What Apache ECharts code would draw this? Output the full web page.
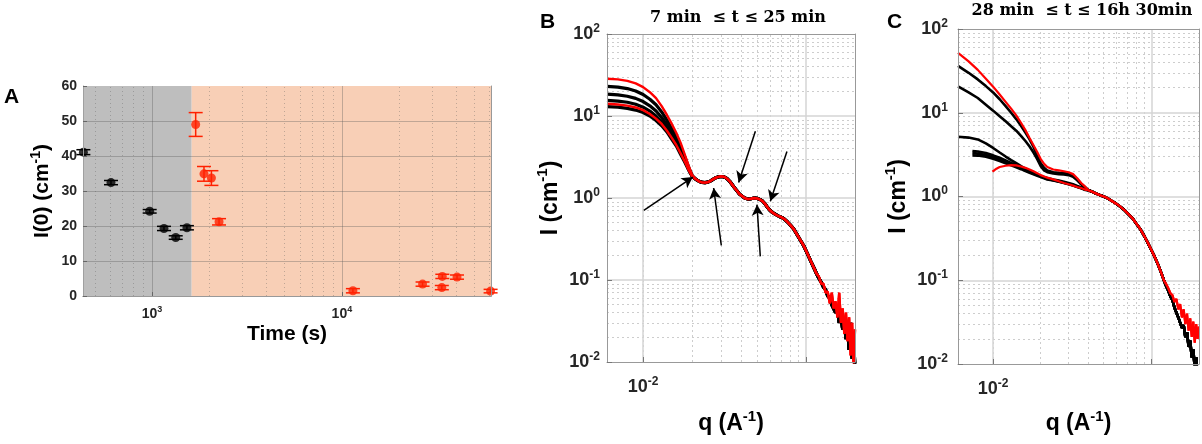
<!DOCTYPE html>
<html><head><meta charset="utf-8">
<script src="https://cdn.jsdelivr.net/npm/echarts@6/dist/echarts.min.js"></script>
<style>html,body{margin:0;padding:0;background:#fff}#c{width:1202px;height:444px}</style>
</head><body><div id="c"></div>
<script>
// ---------- Panel A data ----------
const timeBlack = [435, 608, 972, 1156, 1333, 1527];
const iBlack    = [41.1, 32.4, 24.2, 19.3, 16.7, 19.5];
const errBlack  = [0.7, 0.6, 0.5, 0.6, 0.5, 0.6];
const timeRed   = [1698, 1878, 2055, 2254, 11430, 26600, 33600, 33800, 40400, 60700];
const iRed      = [49.0, 34.9, 33.7, 21.2, 1.5, 3.4, 2.4, 5.6, 5.4, 1.4];
const errRed    = [3.4, 2.1, 2.1, 0.9, 0.6, 0.6, 0.6, 0.6, 0.6, 0.5];
const phaseSplit = 1618;
const aTicksX = [1000, 10000];

// ---------- Panel B data ----------
const qB_low = [0.006,0.007,0.008,0.009,0.010,0.011,0.012,0.013,0.014,0.015,0.016,0.017,0.018,0.019,0.020];
const B_red1 = [28.5,28.0,26.8,25.0,22.5,19.5,16.5,13.2,10.3,8.0,6.2,4.7,3.4,2.5,1.9];
const B_blk1 = [23.0,22.5,21.6,20.2,18.3,16.0,13.7,11.2,8.9,7.0,5.5,4.2,3.2,2.4,1.88];
const B_blk2 = [18.5,18.1,17.4,16.4,15.0,13.3,11.5,9.6,7.8,6.2,4.9,3.8,3.0,2.3,1.86];
const B_blk3 = [15.5,15.2,14.7,13.9,12.8,11.5,10.0,8.5,7.0,5.7,4.6,3.6,2.85,2.25,1.85];
const B_red2 = [14.1,13.8,13.4,12.7,11.8,10.6,9.3,8.0,6.6,5.4,4.4,3.5,2.8,2.2,1.84];
const B_blk4 = [13.0,12.8,12.4,11.8,11.0,10.0,8.8,7.6,6.4,5.2,4.3,3.4,2.75,2.2,1.83];
const qB_tail = [0.021,0.022,0.023,0.024,0.025,0.026,0.027,0.028,0.029,0.030,0.031,0.032,0.033,0.034,0.035,0.036,0.037,0.038,0.039,0.040,0.042,0.044,0.046,0.048,0.050,0.052,0.054,0.056,0.058,0.060,0.062,0.065,0.068,0.071,0.074,0.077,0.080,0.084,0.088,0.092,0.097,0.102,0.107,0.112,0.116];
const B_tail = [1.7,1.6,1.55,1.54,1.56,1.62,1.7,1.77,1.81,1.83,1.82,1.78,1.7,1.6,1.48,1.37,1.28,1.2,1.12,1.06,1.0,0.97,0.98,1.0,0.99,0.96,0.92,0.85,0.77,0.71,0.67,0.63,0.6,0.58,0.55,0.51,0.47,0.42,0.36,0.31,0.26,0.21,0.17,0.14,0.12];
const qB_end = [0.120,0.124,0.128,0.132,0.136,0.140,0.144,0.148,0.152,0.156,0.160,0.164,0.168,0.172,0.176,0.180,0.184,0.188,0.192,0.196,0.200];
const B_endBlack = [0.105,0.094,0.082,0.076,0.064,0.06,0.05,0.052,0.04,0.043,0.03,0.036,0.025,0.032,0.019,0.028,0.014,0.03,0.011,0.02,0.008];
const B_endRed   = [0.11,0.09,0.09,0.07,0.072,0.052,0.07,0.045,0.055,0.035,0.07,0.03,0.045,0.022,0.04,0.018,0.035,0.012,0.03,0.009,0.025];
// arrows (B)
const arrowFromQ = [0.0101, 0.0302, 0.0489, 0.0524, 0.0764];
const arrowFromI = [0.706, 0.264, 6.5, 0.194, 3.7];
const arrowToQ   = [0.0202, 0.0271, 0.0386, 0.050, 0.0604];
const arrowToI   = [1.80, 1.325, 1.55, 0.83, 0.91];

// ---------- Panel C data ----------
const qC_main = [0.006,0.007,0.008,0.009,0.010,0.011,0.012,0.013,0.014,0.015,0.016,0.017,0.018,0.019,0.020,0.021,0.022,0.024,0.026,0.028,0.030,0.032,0.034,0.036,0.038];
const C_red1 = [52,41,32.5,25.5,20.5,16.5,13.5,11.2,9.3,7.6,6.2,5.0,4.1,3.4,2.8,2.45,2.25,2.1,2.05,2.0,1.95,1.85,1.65,1.45,1.32];
const C_blk1 = [36.3,30,25,20.8,17.5,14.5,12.0,10.0,8.4,7.0,5.8,4.8,3.9,3.1,2.5,2.2,2.05,1.95,1.92,1.9,1.87,1.78,1.6,1.42,1.3];
const C_blk2 = [20.7,17.5,15.0,12.5,10.6,9.1,7.9,6.9,6.1,5.3,4.6,3.95,3.35,2.8,2.3,2.05,1.95,1.88,1.85,1.83,1.8,1.72,1.56,1.4,1.29];
const C_blk3 = [5.16,5.05,4.8,4.3,3.8,3.35,3.0,2.72,2.5,2.3,2.15,2.02,1.92,1.83,1.76,1.71,1.66,1.6,1.55,1.5,1.45,1.4,1.34,1.28,1.22];
const qC_grp = [0.0074,0.008,0.009,0.010,0.011,0.012,0.013,0.014,0.015,0.016,0.017,0.018,0.019,0.020,0.021,0.022,0.024,0.026,0.028,0.030,0.032,0.034,0.036,0.038];
const C_grp1 = [3.5,3.45,3.3,3.1,2.9,2.7,2.52,2.38,2.25,2.12,2.0,1.9,1.82,1.75,1.69,1.64,1.57,1.52,1.47,1.42,1.37,1.32,1.27,1.22];
const C_grp2 = [3.3,3.25,3.12,2.95,2.78,2.6,2.45,2.3,2.18,2.06,1.96,1.87,1.8,1.73,1.67,1.62,1.56,1.51,1.46,1.41,1.36,1.31,1.26,1.21];
const C_grp3 = [3.1,3.08,2.98,2.82,2.66,2.5,2.36,2.23,2.12,2.01,1.92,1.84,1.77,1.71,1.65,1.6,1.55,1.5,1.45,1.4,1.35,1.3,1.25,1.2];
const qC_red2 = [0.0099,0.0105,0.011,0.012,0.013,0.014,0.015,0.016,0.017,0.018,0.019,0.020,0.021,0.022,0.024,0.026,0.028,0.030,0.032,0.034,0.036,0.038];
const C_red2  = [1.98,2.15,2.25,2.33,2.37,2.35,2.28,2.2,2.1,2.0,1.9,1.8,1.73,1.68,1.6,1.52,1.45,1.4,1.35,1.3,1.26,1.21];
const qC_tail = [0.040,0.042,0.044,0.046,0.048,0.050,0.053,0.056,0.060,0.064,0.068,0.072,0.076,0.080,0.085,0.090,0.095,0.100,0.105,0.110,0.115,0.120];
const C_tail  = [1.19,1.15,1.1,1.06,1.03,1.0,0.95,0.89,0.82,0.75,0.68,0.61,0.55,0.48,0.41,0.34,0.28,0.23,0.19,0.155,0.125,0.1];
const qC_end = [0.124,0.128,0.132,0.136,0.140,0.144,0.148,0.152,0.156,0.160,0.164,0.168,0.172,0.176,0.180,0.184,0.188,0.192,0.196,0.200];
const C_endBlack = [0.085,0.075,0.064,0.058,0.047,0.045,0.036,0.037,0.027,0.029,0.021,0.024,0.016,0.019,0.012,0.015,0.009,0.012,0.007,0.009];
const C_endRed   = [0.09,0.08,0.07,0.066,0.055,0.06,0.045,0.052,0.036,0.045,0.03,0.04,0.025,0.035,0.021,0.032,0.018,0.03,0.02,0.028];

// ---------- axis / grid tick values ----------
const qMin = 0.006, qMax = 0.2, iMin = 0.01, iMax = 100;
const logTicksY = [0.01, 0.1, 1, 10, 100];
const qLabelTicks = [0.01];
const qMajor = [0.01, 0.1];
const mantissas = [2,3,4,5,6,7,8,9];
const aMinorX = [500,600,700,800,900,2000,3000,4000,5000,6000,7000,8000,9000,20000,30000,40000,50000,60000];
const aLinesY = [10,20,30,40,50];

// ---------- helpers ----------
const LS = "'Liberation Sans', Arial, sans-serif";
const SERIF = "'DejaVu Serif', serif";
const TXT = '#262626';
const RED = '#ff0000';
function pow10(v){ return '10{e|' + Math.round(Math.log10(v)) + '}'; }
function supStyle(size, sup, color){
  return { fontSize: size, fontWeight: 'bold', color: color, fontFamily: LS, lineHeight: Math.round(size*1.3),
    rich: { e: { fontSize: sup, fontWeight: 'bold', color: color, fontFamily: LS, verticalAlign: 'top', lineHeight: sup } } };
}
function minorsIn(decades, lo, hi){
  const out = [];
  decades.forEach(d => mantissas.forEach(m => { const v = +(d*m).toPrecision(6); if (v > lo && v < hi) out.push(v); }));
  return out;
}
const qMinor = minorsIn([0.001, 0.01, 0.1], qMin, qMax);
const iMinor = minorsIn([0.01, 0.1, 1, 10], iMin, iMax);
const iMajor = [0.1, 1, 10];

function pairs(qs, vs){ return qs.map((q,i)=>[q, vs[i]]); }

function boxAxesX(g){ return {gridIndex:g, type:'value', position:'top', min:0, max:1, z:10,
  axisLine:{show:true, lineStyle:{color:'#999', width:1}}, axisTick:{show:false}, axisLabel:{show:false}, splitLine:{show:false}}; }
function boxAxesY(g){ return {gridIndex:g, type:'value', position:'right', min:0, max:1, z:10,
  axisLine:{show:true, lineStyle:{color:'#999', width:1}}, axisTick:{show:false}, axisLabel:{show:false}, splitLine:{show:false}}; }

function gridSeries(idx, majX, minX, majY, minY, majStyle, minStyle){
  const data = []
    .concat(minX.map(v=>({xAxis:v, lineStyle:minStyle})))
    .concat(minY.map(v=>({yAxis:v, lineStyle:minStyle})))
    .concat(majX.map(v=>({xAxis:v, lineStyle:majStyle})))
    .concat(majY.map(v=>({yAxis:v, lineStyle:majStyle})));
  return { type:'line', xAxisIndex: idx, yAxisIndex: idx, data: [], silent: true, z: 1,
    markLine: { silent: true, symbol: ['none','none'], label: {show:false}, animation: false, z: 2, data: data } };
}

function curve(idx, qs, vs, color, w, z){
  return { type:'line', xAxisIndex: idx, yAxisIndex: idx, data: pairs(qs, vs), showSymbol: false, symbol: 'none',
    lineStyle: {color: color, width: w}, itemStyle: {color: color}, z: z, clip: true, silent: true };
}

function errRender(color){
  return function(params, api){
    const x = api.value(0), y = api.value(1), e = api.value(2);
    const p1 = api.coord([x, y+e]), p2 = api.coord([x, y-e]); const w = 7;
    const st = {stroke: color, lineWidth: 1.5};
    return {type:'group', children:[
      {type:'line', shape:{x1:p1[0],y1:p1[1],x2:p2[0],y2:p2[1]}, style:st},
      {type:'line', shape:{x1:p1[0]-w,y1:p1[1],x2:p1[0]+w,y2:p1[1]}, style:st},
      {type:'line', shape:{x1:p2[0]-w,y1:p2[1],x2:p2[0]+w,y2:p2[1]}, style:st}
    ]};
  };
}

// ---------- build ----------
const chart = echarts.init(document.getElementById('c'), null, {renderer:'canvas'});

const majBC = {color:'#d4d4d4', width:1.5, type:'solid'};
const minBC = {color:'#cdcdcd', width:1, type:[2,3]};
const majA = {color:'rgba(90,90,90,0.35)', width:1, type:'solid'};
const minA = {color:'rgba(90,90,90,0.35)', width:1, type:[1,3]};

const series = [];
// Panel A
series.push({ type:'line', xAxisIndex:0, yAxisIndex:0, data:[], silent:true, z:0,
  markArea:{ silent:true, z:0, animation:false, data:[
    [{xAxis: 433, itemStyle:{color:'#bebebe'}}, {xAxis: phaseSplit}],
    [{xAxis: phaseSplit, itemStyle:{color:'#f8cfb6'}}, {xAxis: 61000}]
  ]}});
series.push(gridSeries(0, aTicksX, aMinorX, aLinesY, [], majA, minA));
series.push({ type:'custom', xAxisIndex:0, yAxisIndex:0, renderItem: errRender('#000'), z:5, silent:true,
  data: timeBlack.map((t,i)=>[t, iBlack[i], errBlack[i]]), encode:{x:0,y:1} });
series.push({ type:'custom', xAxisIndex:0, yAxisIndex:0, renderItem: errRender('#ff2000'), z:5, silent:true,
  data: timeRed.map((t,i)=>[t, iRed[i], errRed[i]]), encode:{x:0,y:1} });
series.push({ type:'scatter', xAxisIndex:0, yAxisIndex:0, symbolSize:9, z:6, silent:true, clip:false,
  itemStyle:{color:'#000'}, data: pairs(timeBlack, iBlack) });
series.push({ type:'scatter', xAxisIndex:0, yAxisIndex:0, symbolSize:9, z:6, silent:true, clip:false,
  itemStyle:{color:'#ff2000'}, data: pairs(timeRed, iRed) });

// Panel B
series.push(gridSeries(2, qMajor, qMinor, iMajor, iMinor, majBC, minBC));
const qB = qB_low.concat(qB_tail, qB_end);
[B_blk1, B_blk2, B_blk3, B_blk4].forEach(v => series.push(curve(2, qB, v.concat(B_tail, B_endBlack), '#000', 3.2, 5)));
[B_red2, B_red1].forEach(v => series.push(curve(2, qB, v.concat(B_tail, B_endRed), RED, 2.4, 6)));
series.push({ type:'line', xAxisIndex:2, yAxisIndex:2, data:[], silent:true, z:8,
  markLine:{ silent:true, symbol:['none','arrow'], symbolSize:[9,11], label:{show:false}, animation:false, z:8,
    lineStyle:{color:'#000', width:1.5, type:'solid'},
    data: arrowFromQ.map((q,i)=>[{coord:[q, arrowFromI[i]]},{coord:[arrowToQ[i], arrowToI[i]]}]) }});

// Panel C
series.push(gridSeries(4, qMajor, qMinor, iMajor, iMinor, majBC, minBC));
const tailBlack = C_tail.concat(C_endBlack), tailRed = C_tail.concat(C_endRed), qTail = qC_tail.concat(qC_end);
[C_blk1, C_blk2, C_blk3].forEach(v => series.push(curve(4, qC_main.concat(qTail), v.concat(tailBlack), '#000', 2.6, 5)));
[C_grp1, C_grp2, C_grp3].forEach(v => series.push(curve(4, qC_grp.concat(qTail), v.concat(tailBlack), '#000', 2.6, 5)));
series.push(curve(4, qC_red2.concat(qTail), C_red2.concat(tailRed), RED, 2.2, 6));
series.push(curve(4, qC_main.concat(qTail), C_red1.concat(tailRed), RED, 2.2, 6));

function logQAxis(g, gap){
  return { gridIndex:g, type:'log', min:qMin, max:qMax, z:10,
    axisLine:{show:true, lineStyle:{color:'#999', width:1}},
    axisTick:{show:true, inside:true, length:5, customValues:qMajor, lineStyle:{color:'#777'}},
    axisLabel:Object.assign({ customValues:qLabelTicks, formatter:pow10, margin:14 }, supStyle(18, 12, TXT)),
    splitLine:{show:false}, minorTick:{show:false},
    name:'q (A{e|-1})', nameLocation:'middle', nameGap:gap, nameTextStyle: supStyle(23, 15, '#000') };
}
function logIAxis(g, gap, margin){
  return { gridIndex:g, type:'log', min:iMin, max:iMax, z:10,
    axisLine:{show:true, lineStyle:{color:'#999', width:1}},
    axisTick:{show:true, inside:true, length:5, customValues:logTicksY, lineStyle:{color:'#777'}},
    axisLabel:Object.assign({ customValues:logTicksY, formatter:pow10, margin:margin }, supStyle(18, 12, TXT)),
    splitLine:{show:false},
    name:'I (cm{e|-1})', nameLocation:'middle', nameGap:gap, nameTextStyle: supStyle(23, 15, '#000') };
}

const option = {
  animation: false,
  backgroundColor: '#fff',
  title: [
    {text:'A', left:4, top:87, padding:0, textStyle:{fontSize:21, fontWeight:'bold', fontFamily:LS, color:'#000'}},
    {text:'B', left:540, top:12, padding:0, textStyle:{fontSize:21, fontWeight:'bold', fontFamily:LS, color:'#000'}},
    {text:'C', left:887, top:12, padding:0, textStyle:{fontSize:21, fontWeight:'bold', fontFamily:LS, color:'#000'}},
    {text:'7 min  \u2264 t \u2264 25 min', left:738, textAlign:'center', top:10, padding:0,
      textStyle:{fontSize:16, fontWeight:'bold', fontFamily:SERIF, color:'#000'}},
    {text:'28 min  \u2264 t \u2264 16h 30min', left:1082, textAlign:'center', top:3, padding:0,
      textStyle:{fontSize:16, fontWeight:'bold', fontFamily:SERIF, color:'#000'}}
  ],
  grid: [
    {left:83, top:86, width:408, height:210, show:false},
    {left:607, top:34, width:248, height:328, show:true, backgroundColor:'#fff', borderWidth:0},
    {left:958, top:29, width:241, height:343, show:true, backgroundColor:'#fff', borderWidth:0}
  ],
  xAxis: [
    { gridIndex:0, type:'log', min:433, max:61000, z:10,
      axisLine:{show:true, lineStyle:{color:'#a0a0a0'}},
      axisTick:{show:true, inside:true, length:4, customValues:aTicksX, lineStyle:{color:'#666'}},
      axisLabel:Object.assign({customValues:aTicksX, formatter:pow10, margin:9}, supStyle(14, 9, TXT)),
      splitLine:{show:false},
      name:'Time (s)', nameLocation:'middle', nameGap:28, nameTextStyle:{fontSize:21, fontWeight:'bold', fontFamily:LS, color:'#000'} },
    boxAxesX(0),
    logQAxis(1, 47),
    boxAxesX(1),
    logQAxis(2, 45),
    boxAxesX(2)
  ],
  yAxis: [
    { gridIndex:0, type:'value', min:0, max:60, interval:10, z:10,
      axisLine:{show:true, lineStyle:{color:'#a0a0a0'}},
      axisTick:{show:true, inside:true, length:4, lineStyle:{color:'#666'}},
      axisLabel:{fontSize:14, fontWeight:'bold', color:TXT, fontFamily:LS, margin:6},
      splitLine:{show:false},
      name:'I(0) (cm{e|-1})', nameLocation:'middle', nameGap:27, nameTextStyle: supStyle(21, 14, '#000') },
    boxAxesY(0),
    logIAxis(1, 39, 7),
    boxAxesY(1),
    logIAxis(2, 42, 10),
    boxAxesY(2)
  ],
  series: series
};
// fix axis indices: series reference xAxisIndex/yAxisIndex by position in arrays
series.forEach(s => {
  // map panel index 0/2/4 to axis array positions (bottom/left axes are at 0,2,4)
});
chart.setOption(option);
</script></body></html>
